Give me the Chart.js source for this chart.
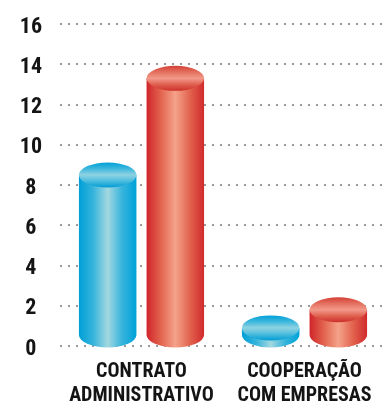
<!DOCTYPE html>
<html>
<head>
<meta charset="utf-8">
<script src="https://cdn.jsdelivr.net/npm/chart.js@4/dist/chart.umd.min.js"></script>
<style>
  html, body { margin: 0; padding: 0; background: #fff; }
  #wrap { width: 386px; height: 403px; }
</style>
</head>
<body>
<div id="wrap"><canvas id="grafico"></canvas></div>
<script>
// dados
const categorias = [['CONTRATO', 'ADMINISTRATIVO'], ['COOPERAÇÃO', 'COM EMPRESAS']];
const serieAzul = [8.5, 0.9];
const serieVermelha = [13.3, 1.8];
const eixoMin = 0;
const eixoMax = 16;
const eixoPasso = 2;

// cores dos cilindros: faixas da lateral (esq -> dir) e da tampa (cima -> baixo)
const paletas = [
  {
    lado: ['#009fd6', '#36b4dc', '#a3d8e0', '#36b4dc', '#00a2d8'],
    topo: ['#00a0d8', '#3db7dd', '#8fd3e1', '#4bbcde', '#009cd4']
  },
  {
    lado: ['#d0252a', '#e2644f', '#f5a28a', '#e2644f', '#d12a2c'],
    topo: ['#d43f36', '#e4705f', '#f2998a', '#e0604f', '#cc2f2a']
  }
];

function desenhaCilindro(ctx, x, w, yTopo, yBase, pal) {
  const rx = w / 2;
  const ry = 12.5;
  const yFundo = Math.max(yBase - 10, yTopo);

  // lateral
  const gl = ctx.createLinearGradient(x - rx, 0, x + rx, 0);
  pal.lado.forEach((c, i) => gl.addColorStop(i / (pal.lado.length - 1), c));
  ctx.beginPath();
  ctx.moveTo(x - rx, yTopo);
  ctx.lineTo(x - rx, yFundo);
  ctx.ellipse(x, yFundo, rx, ry, 0, Math.PI, 0, true);
  ctx.lineTo(x + rx, yTopo);
  ctx.closePath();
  ctx.fillStyle = gl;
  ctx.fill();

  // tampa
  const gt = ctx.createLinearGradient(0, yTopo - ry, 0, yTopo + ry);
  pal.topo.forEach((c, i) => gt.addColorStop(i / (pal.topo.length - 1), c));
  ctx.beginPath();
  ctx.ellipse(x, yTopo, rx, ry, 0, 0, Math.PI * 2);
  ctx.fillStyle = gt;
  ctx.fill();
}

const cilindros = {
  id: 'cilindros',
  afterDatasetsDraw(chart) {
    const ctx = chart.ctx;
    ctx.save();
    chart.data.datasets.forEach((ds, i) => {
      chart.getDatasetMeta(i).data.forEach(bar => {
        const p = bar.getProps(['x', 'y', 'base', 'width'], true);
        desenhaCilindro(ctx, p.x, p.width, p.y, p.base, paletas[i]);
      });
    });
    ctx.restore();
  }
};

const fonte = '"Roboto Condensed", Roboto, sans-serif';

new Chart(document.getElementById('grafico'), {
  type: 'bar',
  data: {
    labels: categorias,
    datasets: [
      { data: serieAzul, backgroundColor: 'rgba(0,0,0,0)' },
      { data: serieVermelha, backgroundColor: 'rgba(0,0,0,0)' }
    ]
  },
  options: {
    responsive: true,
    maintainAspectRatio: false,
    animation: false,
    events: [],
    categoryPercentage: 0.83,
    barPercentage: 0.85,
    layout: { padding: { top: 24, right: 0, left: 0, bottom: 0 } },
    plugins: {
      legend: { display: false },
      tooltip: { enabled: false }
    },
    scales: {
      x: {
        grid: { display: false, drawTicks: false },
        border: { display: false },
        ticks: {
          color: '#141414',
          padding: 14,
          font: { family: fonte, size: 20, weight: 'bold', lineHeight: 1.2 }
        },
        afterFit(scale) { scale.height = 57; }
      },
      y: {
        min: eixoMin,
        max: eixoMax,
        border: { display: false, dash: [2, 6] },
        grid: {
          color: '#9a9a9a',
          lineWidth: 2,
          drawTicks: false
        },
        ticks: {
          stepSize: eixoPasso,
          color: '#141414',
          padding: 18,
          labelOffset: 3,
          crossAlign: 'center',
          font: { family: fonte, size: 22, weight: 'bold', lineHeight: 1 }
        },
        afterFit(scale) {
          scale.width = 60;
          scale.paddingTop = 0;
          scale.paddingBottom = 0;
        }
      }
    }
  },
  plugins: [cilindros]
});
</script>
</body>
</html>
